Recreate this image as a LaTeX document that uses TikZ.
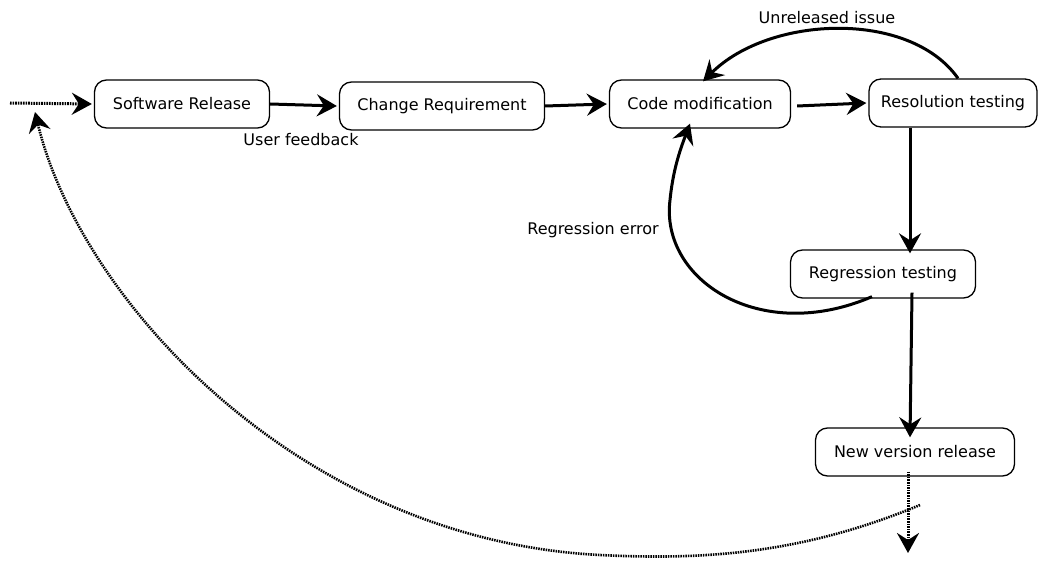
\documentclass[tikz,border=0pt]{standalone}
\usepackage{fontspec}
\setmainfont{DejaVu Sans}
\usetikzlibrary{arrows.meta}
\begin{document}
\begin{tikzpicture}[x=1pt,y=-1pt,
  box/.style={draw, line width=1.3pt, rounded corners=12pt, minimum height=48pt,
              inner sep=0pt, font=\fontsize{16}{19}\selectfont},
  tip/.style={-{Stealth[length=20pt,width=22pt,inset=7pt]}},
  flow/.style={tip, line width=3pt},
  dotline/.style={tip, line width=3pt, dash pattern=on 1.6pt off 1pt},
  thindots/.style={tip, line width=2.6pt, dash pattern=on 1.5pt off 1pt},
  lbl/.style={font=\fontsize{16}{19}\selectfont, inner sep=0pt}]
\useasboundingbox (0,0) rectangle (1046,564);

% process steps
\node[box, minimum width=175pt] (sr)  at (182,104) {Software Release};
\node[box, minimum width=205pt] (cr)  at (442,106) {Change Requirement};
\node[box, minimum width=181pt] (cm)  at (700,104) {Code modification};
\node[box, minimum width=168pt] (rt)  at (953,103) {Resolution testing};
\node[box, minimum width=185pt] (rg)  at (883,274) {Regression testing};
\node[box, minimum width=199pt] (nv)  at (915,452) {New version release};

% free ends of the dotted connectors
\coordinate (in)   at (10,103);
\coordinate (out)  at (908,553);
\coordinate (loopS) at (920,505);
\coordinate (loopE) at (35,112);

% labels
\node[lbl] (uf) at (301,140) {User feedback};
\node[lbl] (ui) at (827,18)  {Unreleased issue};
\node[lbl] (re) at (593,230) {Regression error};

% main flow
\draw[dotline] (in) -- ([xshift=-2pt]sr.west);
\draw[flow] (sr.east) -- ([xshift=-2pt]cr.west);
\draw[flow] (cr.east) -- ([xshift=-2pt]cm.west);
\draw[flow] ([xshift=6pt,yshift=-2pt]cm.east) -- ([xshift=-2pt]rt.west);
\draw[flow] ([xshift=-43pt]rt.south) -- ([xshift=27pt,yshift=-4pt]rg.north);
\draw[flow] ([xshift=29pt,yshift=6pt]rg.south) -- ([xshift=-5pt,yshift=-10pt]nv.north);
\draw[dotline] ([xshift=-7pt,yshift=5pt]nv.south) -- (out);

% feedback loops
\draw[flow] ([xshift=5pt]rt.north) .. controls (910,10) and (770,15) .. ([xshift=3pt,yshift=-2pt]cm.north);
\draw[flow] ([xshift=-11pt,yshift=2pt]rg.south) .. controls (760,345) and (660,280) .. (670,200)
            .. controls (673,170) and (680,150) .. ([xshift=-10pt,yshift=5pt]cm.south);

% return to the next release cycle
\draw[thindots] (loopS) .. controls (800,555) and (700,560) .. (600,555)
                        .. controls (300,540) and (80,300) .. (loopE);
\end{tikzpicture}
\end{document}
